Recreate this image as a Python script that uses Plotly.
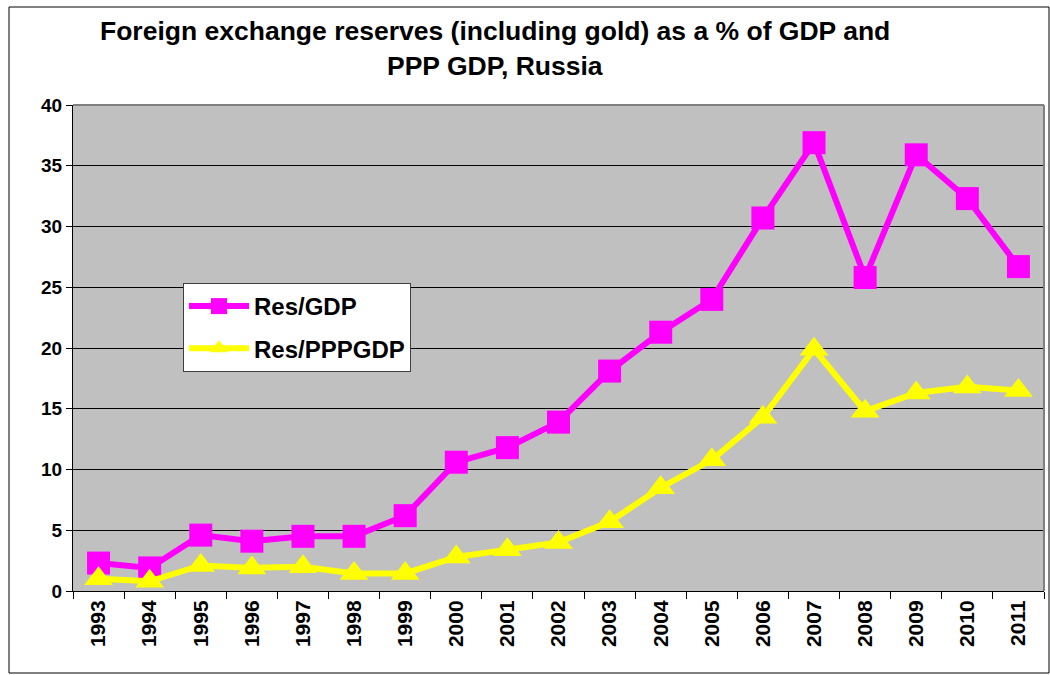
import plotly.graph_objects as go

years = [str(y) for y in range(1993, 2012)]
res_gdp = [2.3, 1.9, 4.6, 4.1, 4.5, 4.5, 6.2, 10.6, 11.8, 13.9, 18.1, 21.3, 24.0,
           30.7, 36.9, 25.8, 35.9, 32.3, 26.7]
res_pppgdp = [1.0, 0.8, 2.1, 1.9, 2.0, 1.45, 1.45, 2.8, 3.4, 4.0, 5.7, 8.5, 10.8,
              14.3, 19.9, 14.8, 16.3, 16.8, 16.5]
y_ticks = [0, 5, 10, 15, 20, 25, 30, 35, 40]
title_lines = ["Foreign exchange reserves (including gold) as a % of GDP and",
               "PPP GDP, Russia"]

FONT = "Liberation Sans, Arial, sans-serif"

# plot-area geometry in pixels
W, H = 1050, 675
L, R, T, B = 73, 6, 105, 84
PW, PH = W - L - R, H - T - B


def px_x(x):
    return (x - L) / PW


def px_y(y):
    return (H - B - y) / PH


fig = go.Figure()
fig.add_trace(go.Scatter(
    x=years, y=res_gdp, name="<b>Res/GDP</b>", mode="lines+markers",
    legendgroup="a",
    line=dict(color="#ff00ff", width=6),
    marker=dict(symbol="square", size=23, color="#ff00ff"),
))
fig.add_trace(go.Scatter(
    x=years, y=res_pppgdp, name="<b>Res/PPPGDP</b>", mode="lines+markers",
    legendgroup="b",
    line=dict(color="#ffff00", width=6),
    marker=dict(symbol="triangle-up", size=25, color="#ffff00"),
))

fig.update_layout(
    width=W, height=H,
    margin=dict(l=L, r=R, t=T, b=B),
    paper_bgcolor="white", plot_bgcolor="#c0c0c0",
    font=dict(family=FONT, color="black"),
    showlegend=True,
    legend=dict(
        x=px_x(183), y=px_y(283), xanchor="left", yanchor="top",
        bgcolor="white", bordercolor="#404040", borderwidth=1,
        font=dict(family=FONT, size=24, color="black"),
        traceorder="grouped", tracegroupgap=8,
        itemwidth=60,
    ),
    xaxis=dict(
        type="category", range=[-0.5, 18.5],
        tickvals=years, ticktext=[f"<b>{y}</b>" for y in years],
        tickangle=-90, tickson="boundaries", ticks="outside", ticklen=7,
        tickcolor="black", showline=True, linecolor="black", linewidth=1,
        showgrid=False, tickfont=dict(family=FONT, size=21, color="black"),
    ),
    yaxis=dict(
        range=[0, 40], tickvals=y_ticks, ticktext=[f"<b>{v}</b>" for v in y_ticks],
        ticks="outside", ticklen=6,
        tickcolor="black", showline=True, linecolor="black", linewidth=1,
        showgrid=True, gridcolor="black", gridwidth=1, zeroline=False,
        tickfont=dict(family=FONT, size=19, color="black"),
    ),
)

# two-line bold title
for text, yc in zip(title_lines, [31, 66]):
    fig.add_annotation(
        text=f"<b>{text}</b>", xref="paper", yref="paper",
        x=px_x(495), y=px_y(yc), xanchor="center", yanchor="middle",
        showarrow=False, font=dict(family=FONT, size=26.5, color="black"),
    )

# grey frame on the top/right edges of the plot area
fig.add_shape(type="line", xref="paper", yref="paper", x0=0, x1=1, y0=1, y1=1,
              line=dict(color="#808080", width=2))
fig.add_shape(type="line", xref="paper", yref="paper", x0=1, x1=1, y0=0, y1=1,
              line=dict(color="#808080", width=2))

# outer chart border
fig.add_shape(type="rect", xref="paper", yref="paper",
              x0=px_x(9), x1=px_x(1049), y0=px_y(673), y1=px_y(7),
              line=dict(color="black", width=1), layer="below")

fig.write_html("out.html")
